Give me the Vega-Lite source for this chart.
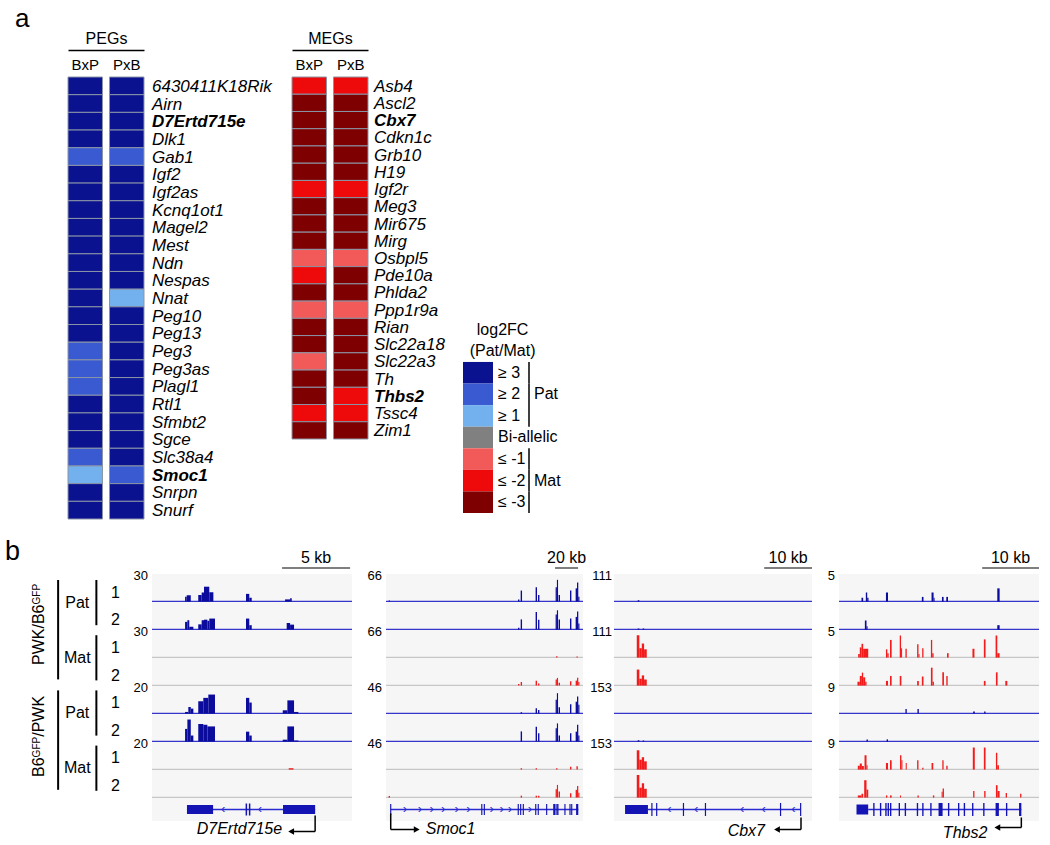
{
"$schema": "https://vega.github.io/schema/vega-lite/v6.json",
"padding": {"left": 0, "top": 6, "right": 5, "bottom": 5},
"background": "white",
"config": {"view": {"stroke": null}, "font": "Liberation Sans", "text": {"font": "Liberation Sans", "color": "black"}, "title": {"font": "Liberation Sans", "color": "black"}, "axis": {"labelFont": "Liberation Sans", "titleFont": "Liberation Sans"}},
"datasets": {
"peg": [
{"g":"6430411K18Rik","c":"BxP","v":3},{"g":"6430411K18Rik","c":"PxB","v":3},
{"g":"Airn","c":"BxP","v":3},{"g":"Airn","c":"PxB","v":3},
{"g":"D7Ertd715e","c":"BxP","v":3},{"g":"D7Ertd715e","c":"PxB","v":3},
{"g":"Dlk1","c":"BxP","v":3},{"g":"Dlk1","c":"PxB","v":3},
{"g":"Gab1","c":"BxP","v":2},{"g":"Gab1","c":"PxB","v":2},
{"g":"Igf2","c":"BxP","v":3},{"g":"Igf2","c":"PxB","v":3},
{"g":"Igf2as","c":"BxP","v":3},{"g":"Igf2as","c":"PxB","v":3},
{"g":"Kcnq1ot1","c":"BxP","v":3},{"g":"Kcnq1ot1","c":"PxB","v":3},
{"g":"Magel2","c":"BxP","v":3},{"g":"Magel2","c":"PxB","v":3},
{"g":"Mest","c":"BxP","v":3},{"g":"Mest","c":"PxB","v":3},
{"g":"Ndn","c":"BxP","v":3},{"g":"Ndn","c":"PxB","v":3},
{"g":"Nespas","c":"BxP","v":3},{"g":"Nespas","c":"PxB","v":3},
{"g":"Nnat","c":"BxP","v":3},{"g":"Nnat","c":"PxB","v":1},
{"g":"Peg10","c":"BxP","v":3},{"g":"Peg10","c":"PxB","v":3},
{"g":"Peg13","c":"BxP","v":3},{"g":"Peg13","c":"PxB","v":3},
{"g":"Peg3","c":"BxP","v":2},{"g":"Peg3","c":"PxB","v":3},
{"g":"Peg3as","c":"BxP","v":2},{"g":"Peg3as","c":"PxB","v":3},
{"g":"Plagl1","c":"BxP","v":2},{"g":"Plagl1","c":"PxB","v":3},
{"g":"Rtl1","c":"BxP","v":3},{"g":"Rtl1","c":"PxB","v":3},
{"g":"Sfmbt2","c":"BxP","v":3},{"g":"Sfmbt2","c":"PxB","v":3},
{"g":"Sgce","c":"BxP","v":3},{"g":"Sgce","c":"PxB","v":3},
{"g":"Slc38a4","c":"BxP","v":2},{"g":"Slc38a4","c":"PxB","v":3},
{"g":"Smoc1","c":"BxP","v":1},{"g":"Smoc1","c":"PxB","v":2},
{"g":"Snrpn","c":"BxP","v":3},{"g":"Snrpn","c":"PxB","v":3},
{"g":"Snurf","c":"BxP","v":3},{"g":"Snurf","c":"PxB","v":3}
],
"meg": [
{"g":"Asb4","c":"BxP","v":-2},{"g":"Asb4","c":"PxB","v":-2},
{"g":"Ascl2","c":"BxP","v":-3},{"g":"Ascl2","c":"PxB","v":-3},
{"g":"Cbx7","c":"BxP","v":-3},{"g":"Cbx7","c":"PxB","v":-3},
{"g":"Cdkn1c","c":"BxP","v":-3},{"g":"Cdkn1c","c":"PxB","v":-3},
{"g":"Grb10","c":"BxP","v":-3},{"g":"Grb10","c":"PxB","v":-3},
{"g":"H19","c":"BxP","v":-3},{"g":"H19","c":"PxB","v":-3},
{"g":"Igf2r","c":"BxP","v":-2},{"g":"Igf2r","c":"PxB","v":-2},
{"g":"Meg3","c":"BxP","v":-3},{"g":"Meg3","c":"PxB","v":-3},
{"g":"Mir675","c":"BxP","v":-3},{"g":"Mir675","c":"PxB","v":-3},
{"g":"Mirg","c":"BxP","v":-3},{"g":"Mirg","c":"PxB","v":-3},
{"g":"Osbpl5","c":"BxP","v":-1},{"g":"Osbpl5","c":"PxB","v":-1},
{"g":"Pde10a","c":"BxP","v":-2},{"g":"Pde10a","c":"PxB","v":-3},
{"g":"Phlda2","c":"BxP","v":-3},{"g":"Phlda2","c":"PxB","v":-3},
{"g":"Ppp1r9a","c":"BxP","v":-1},{"g":"Ppp1r9a","c":"PxB","v":-1},
{"g":"Rian","c":"BxP","v":-3},{"g":"Rian","c":"PxB","v":-3},
{"g":"Slc22a18","c":"BxP","v":-3},{"g":"Slc22a18","c":"PxB","v":-3},
{"g":"Slc22a3","c":"BxP","v":-1},{"g":"Slc22a3","c":"PxB","v":-3},
{"g":"Th","c":"BxP","v":-3},{"g":"Th","c":"PxB","v":-3},
{"g":"Thbs2","c":"BxP","v":-3},{"g":"Thbs2","c":"PxB","v":-2},
{"g":"Tssc4","c":"BxP","v":-2},{"g":"Tssc4","c":"PxB","v":-2},
{"g":"Zim1","c":"BxP","v":-3},{"g":"Zim1","c":"PxB","v":-3}
],
"leg": [
{"lab":"log2FC"},{"lab":"(Pat/Mat)"},
{"lab":"≥ 3","v":3,"grp":"Pat"},{"lab":"≥ 2","v":2,"grp":"Pat","gl":"Pat"},{"lab":"≥ 1","v":1,"grp":"Pat"},
{"lab":"Bi-allelic","v":0},
{"lab":"≤ -1","v":-1,"grp":"Mat"},{"lab":"≤ -2","v":-2,"grp":"Mat","gl":"Mat"},{"lab":"≤ -3","v":-3,"grp":"Mat"}
],
"lab": [
{"k":"strain","n":"PWK/B6GFP","lo":0,"hi":4,"mid":2},
{"k":"strain","n":"B6GFP/PWK","lo":4,"hi":8,"mid":6},
{"k":"parent","n":"Pat","lo":0,"hi":2,"mid":1},
{"k":"parent","n":"Mat","lo":2,"hi":4,"mid":3},
{"k":"parent","n":"Pat","lo":4,"hi":6,"mid":5},
{"k":"parent","n":"Mat","lo":6,"hi":8,"mid":7},
{"k":"rep","n":"1","lo":0,"hi":1,"mid":0.5},{"k":"rep","n":"2","lo":1,"hi":2,"mid":1.5},
{"k":"rep","n":"1","lo":2,"hi":3,"mid":2.5},{"k":"rep","n":"2","lo":3,"hi":4,"mid":3.5},
{"k":"rep","n":"1","lo":4,"hi":5,"mid":4.5},{"k":"rep","n":"2","lo":5,"hi":6,"mid":5.5},
{"k":"rep","n":"1","lo":6,"hi":7,"mid":6.5},{"k":"rep","n":"2","lo":7,"hi":8,"mid":7.5}
],
"t1": [
{"t":1,"k":"base"},{"t":2,"k":"base"},{"t":3,"k":"base"},{"t":4,"k":"base"},{"t":5,"k":"base"},{"t":6,"k":"base"},{"t":7,"k":"base"},{"t":8,"k":"base"},
{"t":1,"lab":"30"},{"t":3,"lab":"30"},{"t":5,"lab":"20"},{"t":7,"lab":"20"},
{"t":1,"s":2.43,"e":2.55,"v":18},{"t":1,"s":2.55,"e":2.85,"v":23},{"t":1,"s":3.40,"e":3.65,"v":24},{"t":1,"s":3.65,"e":3.82,"v":33},{"t":1,"s":3.82,"e":4.21,"v":54},{"t":1,"s":4.21,"e":4.51,"v":34},{"t":1,"s":6.91,"e":7.15,"v":28},{"t":1,"s":7.15,"e":7.33,"v":14},{"t":1,"s":9.78,"e":10.15,"v":8},{"t":1,"s":10.15,"e":10.27,"v":12},
{"t":2,"s":2.43,"e":2.60,"v":28},{"t":2,"s":2.60,"e":2.74,"v":34},{"t":2,"s":2.74,"e":3.04,"v":10},{"t":2,"s":3.40,"e":3.65,"v":19},{"t":2,"s":3.65,"e":3.82,"v":34},{"t":2,"s":3.82,"e":4.07,"v":36},{"t":2,"s":4.07,"e":4.21,"v":32},{"t":2,"s":4.21,"e":4.63,"v":40},{"t":2,"s":6.91,"e":7.15,"v":40},{"t":2,"s":7.15,"e":7.33,"v":16},{"t":2,"s":9.90,"e":10.15,"v":24},{"t":2,"s":10.15,"e":10.44,"v":18},
{"t":5,"s":2.43,"e":2.67,"v":6},{"t":5,"s":2.67,"e":2.85,"v":24},{"t":5,"s":2.85,"e":3.04,"v":18},{"t":5,"s":3.40,"e":3.77,"v":45},{"t":5,"s":3.77,"e":4.14,"v":57},{"t":5,"s":4.14,"e":4.63,"v":69},{"t":5,"s":6.91,"e":7.15,"v":57},{"t":5,"s":7.15,"e":7.33,"v":40},{"t":5,"s":9.61,"e":9.95,"v":12},{"t":5,"s":9.95,"e":10.44,"v":48},{"t":5,"s":10.44,"e":10.76,"v":6},
{"t":6,"s":2.43,"e":2.60,"v":46},{"t":6,"s":2.60,"e":2.85,"v":80},{"t":6,"s":2.85,"e":3.04,"v":22},{"t":6,"s":3.40,"e":3.77,"v":64},{"t":6,"s":3.77,"e":4.07,"v":61},{"t":6,"s":4.07,"e":4.63,"v":55},{"t":6,"s":6.91,"e":7.15,"v":36},{"t":6,"s":7.15,"e":7.33,"v":22},{"t":6,"s":9.61,"e":9.95,"v":7},{"t":6,"s":9.95,"e":10.44,"v":55},{"t":6,"s":10.44,"e":10.76,"v":4},
{"t":7,"s":10.05,"e":10.4,"v":5}
],
"t2": [
{"t":1,"k":"base"},{"t":2,"k":"base"},{"t":3,"k":"base"},{"t":4,"k":"base"},{"t":5,"k":"base"},{"t":6,"k":"base"},{"t":7,"k":"base"},{"t":8,"k":"base"},
{"t":1,"lab":"66"},{"t":3,"lab":"66"},{"t":5,"lab":"46"},{"t":7,"lab":"46"},
{"t":1,"s":2.3,"e":3.5,"v":4},{"t":1,"s":114.8,"e":116.0,"v":8},{"t":1,"s":117.1,"e":118.3,"v":40},{"t":1,"s":130.1,"e":131.3,"v":52},{"t":1,"s":132.2,"e":133.4,"v":24},{"t":1,"s":147.5,"e":148.6,"v":52},{"t":1,"s":148.6,"e":149.6,"v":79},{"t":1,"s":150.1,"e":151.3,"v":24},{"t":1,"s":160.0,"e":161.2,"v":40},{"t":1,"s":164.9,"e":166.1,"v":48},{"t":1,"s":166.1,"e":167.2,"v":69},{"t":1,"s":167.2,"e":168.2,"v":18},
{"t":2,"s":114.8,"e":116.0,"v":7},{"t":2,"s":117.1,"e":118.3,"v":37},{"t":2,"s":130.1,"e":131.3,"v":64},{"t":2,"s":132.2,"e":133.4,"v":36},{"t":2,"s":147.5,"e":148.6,"v":55},{"t":2,"s":148.6,"e":149.6,"v":70},{"t":2,"s":150.1,"e":151.3,"v":37},{"t":2,"s":160.0,"e":161.2,"v":40},{"t":2,"s":164.9,"e":166.1,"v":46},{"t":2,"s":166.1,"e":167.2,"v":66},{"t":2,"s":167.2,"e":168.2,"v":22},
{"t":3,"s":147.9,"e":149.1,"v":5},{"t":3,"s":165.6,"e":166.8,"v":4},
{"t":4,"s":114.8,"e":116.0,"v":6},{"t":4,"s":117.1,"e":118.3,"v":13},{"t":4,"s":130.1,"e":131.3,"v":18},{"t":4,"s":132.2,"e":133.4,"v":8},{"t":4,"s":147.5,"e":148.6,"v":22},{"t":4,"s":148.6,"e":149.6,"v":28},{"t":4,"s":150.1,"e":151.3,"v":10},{"t":4,"s":160.0,"e":161.2,"v":16},{"t":4,"s":164.9,"e":166.1,"v":18},{"t":4,"s":166.1,"e":167.2,"v":28},{"t":4,"s":167.2,"e":168.2,"v":13},
{"t":5,"s":117.1,"e":118.3,"v":5},{"t":5,"s":130.1,"e":131.3,"v":19},{"t":5,"s":132.2,"e":133.4,"v":13},{"t":5,"s":147.5,"e":148.6,"v":50},{"t":5,"s":148.6,"e":149.6,"v":74},{"t":5,"s":150.1,"e":151.3,"v":23},{"t":5,"s":160.0,"e":161.2,"v":34},{"t":5,"s":164.9,"e":166.1,"v":43},{"t":5,"s":166.1,"e":167.2,"v":62},{"t":5,"s":167.2,"e":168.2,"v":32},
{"t":6,"s":117.1,"e":118.3,"v":37},{"t":6,"s":130.1,"e":131.3,"v":54},{"t":6,"s":132.2,"e":133.4,"v":30},{"t":6,"s":147.5,"e":148.6,"v":48},{"t":6,"s":148.6,"e":149.6,"v":66},{"t":6,"s":150.1,"e":151.3,"v":22},{"t":6,"s":160.0,"e":161.2,"v":30},{"t":6,"s":164.9,"e":166.1,"v":36},{"t":6,"s":166.1,"e":167.2,"v":61},{"t":6,"s":167.2,"e":168.2,"v":22},
{"t":7,"s":117.1,"e":118.3,"v":5},{"t":7,"s":130.1,"e":131.3,"v":5},{"t":7,"s":147.9,"e":149.1,"v":5},{"t":7,"s":160.0,"e":161.2,"v":10},{"t":7,"s":165.6,"e":166.8,"v":12},
{"t":8,"s":2.3,"e":3.5,"v":6},{"t":8,"s":117.1,"e":118.3,"v":7},{"t":8,"s":130.1,"e":131.3,"v":7},{"t":8,"s":132.2,"e":133.4,"v":7},{"t":8,"s":147.5,"e":148.6,"v":30},{"t":8,"s":148.6,"e":149.6,"v":46},{"t":8,"s":150.1,"e":151.3,"v":22},{"t":8,"s":160.0,"e":161.2,"v":16},{"t":8,"s":164.9,"e":166.1,"v":28},{"t":8,"s":166.1,"e":167.2,"v":42},{"t":8,"s":167.2,"e":168.2,"v":18}
],
"t3": [
{"t":1,"k":"base"},{"t":2,"k":"base"},{"t":3,"k":"base"},{"t":4,"k":"base"},{"t":5,"k":"base"},{"t":6,"k":"base"},{"t":7,"k":"base"},{"t":8,"k":"base"},
{"t":1,"lab":"111"},{"t":3,"lab":"111"},{"t":5,"lab":"153"},{"t":7,"lab":"153"},
{"t":1,"s":4.95,"e":5.3,"v":5},
{"t":2,"s":4.95,"e":5.3,"v":4},{"t":2,"s":6.0,"e":6.3,"v":4},
{"t":3,"s":4.76,"e":5.30,"v":81},{"t":3,"s":5.30,"e":5.81,"v":34},{"t":3,"s":5.81,"e":6.29,"v":51},{"t":3,"s":6.29,"e":6.85,"v":30},
{"t":4,"s":4.76,"e":5.30,"v":58},{"t":4,"s":5.30,"e":5.81,"v":25},{"t":4,"s":5.81,"e":6.29,"v":37},{"t":4,"s":6.29,"e":6.85,"v":22},
{"t":6,"s":4.95,"e":5.3,"v":5},{"t":6,"s":6.0,"e":6.3,"v":4},
{"t":7,"s":4.76,"e":5.30,"v":70},{"t":7,"s":5.30,"e":5.81,"v":36},{"t":7,"s":5.81,"e":6.29,"v":45},{"t":7,"s":6.29,"e":6.85,"v":30},
{"t":8,"s":4.76,"e":5.30,"v":82},{"t":8,"s":5.30,"e":5.81,"v":36},{"t":8,"s":5.81,"e":6.29,"v":52},{"t":8,"s":6.29,"e":6.85,"v":32}
],
"t4": [
{"t":1,"k":"base"},{"t":2,"k":"base"},{"t":3,"k":"base"},{"t":4,"k":"base"},{"t":5,"k":"base"},{"t":6,"k":"base"},{"t":7,"k":"base"},{"t":8,"k":"base"},
{"t":1,"lab":"5"},{"t":3,"lab":"5"},{"t":5,"lab":"9"},{"t":7,"lab":"9"},
{"t":1,"s":3.95,"e":4.24,"v":14},{"t":1,"s":4.71,"e":4.95,"v":33},{"t":1,"s":4.95,"e":5.18,"v":14},{"t":1,"s":8.24,"e":8.60,"v":33},{"t":1,"s":14.54,"e":14.83,"v":17},{"t":1,"s":16.24,"e":16.60,"v":33},{"t":1,"s":16.60,"e":16.77,"v":14},{"t":1,"s":18.07,"e":18.36,"v":17},{"t":1,"s":18.83,"e":19.13,"v":17},{"t":1,"s":27.78,"e":28.19,"v":48},
{"t":2,"s":4.54,"e":4.83,"v":33},{"t":2,"s":4.83,"e":5.01,"v":12},{"t":2,"s":27.78,"e":28.19,"v":16},
{"t":3,"s":3.36,"e":3.65,"v":13},{"t":3,"s":3.65,"e":3.95,"v":37},{"t":3,"s":3.95,"e":4.24,"v":50},{"t":3,"s":4.24,"e":5.13,"v":32},{"t":3,"s":8.24,"e":8.48,"v":30},{"t":3,"s":8.48,"e":8.71,"v":16},{"t":3,"s":8.95,"e":9.24,"v":64},{"t":3,"s":10.66,"e":10.89,"v":80},{"t":3,"s":10.89,"e":11.07,"v":34},{"t":3,"s":11.66,"e":11.89,"v":32},{"t":3,"s":13.71,"e":13.95,"v":48},{"t":3,"s":13.95,"e":14.13,"v":13},{"t":3,"s":14.60,"e":14.83,"v":34},{"t":3,"s":16.13,"e":16.36,"v":64},{"t":3,"s":16.36,"e":16.60,"v":16},{"t":3,"s":18.95,"e":19.24,"v":16},{"t":3,"s":23.42,"e":23.77,"v":32},{"t":3,"s":25.42,"e":25.72,"v":66},{"t":3,"s":27.48,"e":27.78,"v":80},{"t":3,"s":27.78,"e":28.19,"v":16},
{"t":4,"s":3.24,"e":3.65,"v":14},{"t":4,"s":3.65,"e":4.01,"v":35},{"t":4,"s":4.01,"e":4.24,"v":47},{"t":4,"s":4.24,"e":4.60,"v":30},{"t":4,"s":4.60,"e":4.83,"v":14},{"t":4,"s":8.24,"e":8.60,"v":17},{"t":4,"s":8.95,"e":9.24,"v":35},{"t":4,"s":10.66,"e":10.95,"v":35},{"t":4,"s":13.71,"e":14.01,"v":17},{"t":4,"s":14.54,"e":14.83,"v":33},{"t":4,"s":16.13,"e":16.42,"v":65},{"t":4,"s":16.42,"e":16.66,"v":14},{"t":4,"s":18.13,"e":18.42,"v":48},{"t":4,"s":18.83,"e":19.07,"v":35},{"t":4,"s":25.42,"e":25.72,"v":17},{"t":4,"s":27.54,"e":27.83,"v":48},{"t":4,"s":29.19,"e":29.54,"v":17},
{"t":5,"s":11.66,"e":11.89,"v":17},{"t":5,"s":13.77,"e":14.01,"v":17},{"t":5,"s":23.54,"e":23.83,"v":8},{"t":5,"s":25.48,"e":25.72,"v":8},
{"t":6,"s":4.83,"e":5.07,"v":8},{"t":6,"s":8.36,"e":8.60,"v":8},
{"t":7,"s":3.30,"e":3.65,"v":14},{"t":7,"s":3.65,"e":4.01,"v":22},{"t":7,"s":4.01,"e":4.36,"v":13},{"t":7,"s":4.48,"e":4.83,"v":52},{"t":7,"s":4.83,"e":5.01,"v":16},{"t":7,"s":8.24,"e":8.60,"v":24},{"t":7,"s":8.95,"e":9.24,"v":34},{"t":7,"s":10.71,"e":10.95,"v":52},{"t":7,"s":10.95,"e":11.13,"v":34},{"t":7,"s":11.71,"e":11.89,"v":24},{"t":7,"s":13.71,"e":13.95,"v":34},{"t":7,"s":14.60,"e":14.83,"v":7},{"t":7,"s":16.24,"e":16.54,"v":24},{"t":7,"s":18.13,"e":18.36,"v":34},{"t":7,"s":18.83,"e":19.07,"v":14},{"t":7,"s":23.48,"e":23.83,"v":80},{"t":7,"s":25.42,"e":25.72,"v":80},{"t":7,"s":27.54,"e":27.78,"v":61},{"t":7,"s":27.78,"e":28.07,"v":16},
{"t":8,"s":3.30,"e":3.95,"v":8},{"t":8,"s":3.95,"e":4.24,"v":14},{"t":8,"s":4.42,"e":4.83,"v":63},{"t":8,"s":4.83,"e":5.13,"v":29},{"t":8,"s":8.24,"e":8.48,"v":8},{"t":8,"s":8.95,"e":9.24,"v":8},{"t":8,"s":10.71,"e":10.89,"v":8},{"t":8,"s":13.77,"e":14.01,"v":8},{"t":8,"s":16.48,"e":16.72,"v":8},{"t":8,"s":18.01,"e":18.19,"v":21},{"t":8,"s":18.19,"e":18.42,"v":33},{"t":8,"s":23.54,"e":23.77,"v":24},{"t":8,"s":25.48,"e":25.72,"v":24},{"t":8,"s":27.54,"e":27.83,"v":45},{"t":8,"s":27.83,"e":28.19,"v":24},{"t":8,"s":29.25,"e":29.48,"v":17},{"t":8,"s":31.78,"e":32.01,"v":14}
],
"g1": [
{"k":"bar","s":9.56,"e":14.56,"m":12.06,"lab":"5 kb"},
{"k":"i","s":2.57,"e":11.99},
{"k":"x","s":2.57,"e":4.49,"h":"u"},{"k":"x","s":9.63,"e":11.99,"h":"u"},{"k":"x","s":6.88,"e":6.99,"h":"c"},{"k":"x","s":7.12,"e":7.23,"h":"c"},
{"k":"c","s":5.24},{"k":"c","s":7.94},
{"k":"n","s":11.99,"g":"D7Ertd715e"}
],
"g2": [
{"k":"bar","s":147,"e":167,"m":157,"lab":"20 kb"},
{"k":"i","s":4.1,"e":167.2},
{"k":"x","s":3.6,"e":4.6,"h":"c"},{"k":"x","s":82.8,"e":83.8,"h":"c"},{"k":"x","s":85.0,"e":86.0,"h":"c"},{"k":"x","s":114.5,"e":115.5,"h":"c"},{"k":"x","s":116.6,"e":117.6,"h":"c"},{"k":"x","s":118.9,"e":119.9,"h":"c"},{"k":"x","s":129.7,"e":130.7,"h":"c"},{"k":"x","s":131.9,"e":132.9,"h":"c"},{"k":"x","s":139.2,"e":140.2,"h":"c"},{"k":"x","s":145.4,"e":147.0,"h":"c"},{"k":"x","s":147.4,"e":148.4,"h":"c"},{"k":"x","s":148.8,"e":150.0,"h":"c"},{"k":"x","s":155.1,"e":156.1,"h":"c"},{"k":"x","s":159.5,"e":160.5,"h":"c"},{"k":"x","s":161.0,"e":162.0,"h":"c"},{"k":"x","s":165.3,"e":167.2,"h":"c"},
{"k":"c","s":16.5},{"k":"c","s":29.6},{"k":"c","s":39.7},{"k":"c","s":49.8},{"k":"c","s":61.5},{"k":"c","s":71.6},{"k":"c","s":91.9},{"k":"c","s":100.6},{"k":"c","s":107.8},{"k":"c","s":125.2},
{"k":"n","s":4.1,"g":"Smoc1"}
],
"g3": [
{"k":"bar","s":31.4,"e":41.4,"m":36.4,"lab":"10 kb"},
{"k":"i","s":7.1,"e":39.1},
{"k":"x","s":2.31,"e":7.1,"h":"u"},{"k":"x","s":7.8,"e":8.05,"h":"c"},{"k":"x","s":8.8,"e":9.05,"h":"c"},{"k":"x","s":14.4,"e":14.65,"h":"c"},{"k":"x","s":19.0,"e":19.25,"h":"c"},{"k":"x","s":34.7,"e":34.95,"h":"c"},{"k":"x","s":38.9,"e":39.15,"h":"c"},
{"k":"c","s":11.6},{"k":"c","s":17.2},{"k":"c","s":26.8},{"k":"c","s":31.3},{"k":"c","s":37.5},
{"k":"n","s":39.1,"g":"Cbx7"}
],
"g4": [
{"k":"bar","s":25.13,"e":35.1,"m":30.1,"lab":"10 kb"},
{"k":"i","s":5.12,"e":32.0},
{"k":"x","s":3.07,"e":5.12,"h":"u"},
{"k":"x","s":6.0,"e":6.24,"h":"c"},{"k":"x","s":7.18,"e":7.42,"h":"c"},{"k":"x","s":8.12,"e":8.36,"h":"c"},{"k":"x","s":8.53,"e":8.77,"h":"c"},{"k":"x","s":8.95,"e":9.19,"h":"c"},{"k":"x","s":10.47,"e":10.71,"h":"c"},{"k":"x","s":11.53,"e":11.77,"h":"c"},{"k":"x","s":13.65,"e":13.89,"h":"c"},{"k":"x","s":14.6,"e":14.84,"h":"c"},{"k":"x","s":16.01,"e":16.25,"h":"c"},{"k":"x","s":17.47,"e":18.18,"h":"c"},{"k":"x","s":19.12,"e":19.36,"h":"c"},{"k":"x","s":20.88,"e":21.12,"h":"c"},{"k":"x","s":21.89,"e":22.13,"h":"c"},{"k":"x","s":23.35,"e":23.59,"h":"c"},{"k":"x","s":25.3,"e":25.54,"h":"c"},{"k":"x","s":27.48,"e":28.06,"h":"c"},{"k":"x","s":29.3,"e":29.54,"h":"c"},{"k":"x","s":31.6,"e":32.0,"h":"c"},
{"k":"n","s":32.0,"g":"Thbs2"}
]
},
"columns": 5,
"align": "none",
"spacing": 0,
"bounds": "flush",
"concat": [
 {"width": 152, "height": 473,
  "title": {"text": "a", "anchor": "start", "frame": "group", "dx": 15, "fontSize": 26, "fontWeight": "normal", "offset": -2},
  "data": {"name": "peg"},
  "layer": [
   {"mark": {"type": "rect", "stroke": "#8a94a6", "strokeWidth": 1},
    "encoding": {
     "x": {"field": "c", "type": "nominal", "scale": {"domain": ["BxP","PxB"], "range": [68,144], "paddingInner": 0.17, "paddingOuter": 0},
       "axis": {"orient": "top", "title": "PEGs", "titleFontSize": 16, "titleFontWeight": "normal", "titlePadding": 4, "titleColor": "black", "labelFontSize": 15, "labelAngle": 0, "labelColor": "black", "ticks": false, "domainColor": "black", "domainWidth": 1.5, "offset": 27, "labelPadding": -22}},
     "y": {"field": "g", "type": "nominal", "sort": null, "scale": {"range": [0,442], "paddingInner": 0, "paddingOuter": 0}, "axis": null},
     "fill": {"field": "v", "type": "ordinal", "scale": {"domain": [3,2,1,0,-1,-2,-3], "range": ["#0a1290","#3a5ad2","#73b0ee","#808080","#f25a5a","#ee0a0a","#7f0000"]}, "legend": null}}},
   {"transform": [{"filter": "datum.c=='PxB'"}, {"filter": {"not": {"field": "g", "oneOf": ["D7Ertd715e","Smoc1","Cbx7","Thbs2"]}}}],
    "mark": {"type": "text", "align": "left", "baseline": "middle", "dx": 8, "dy": 1, "fontSize": 17, "fontStyle": "italic"},
    "encoding": {"x": {"field": "c", "type": "nominal", "bandPosition": 1}, "y": {"field": "g", "type": "nominal", "sort": null, "axis": null}, "text": {"field": "g"}}},
   {"transform": [{"filter": "datum.c=='PxB'"}, {"filter": {"field": "g", "oneOf": ["D7Ertd715e","Smoc1","Cbx7","Thbs2"]}}],
    "mark": {"type": "text", "align": "left", "baseline": "middle", "dx": 8, "dy": 1, "fontSize": 17, "fontStyle": "italic", "fontWeight": "bold"},
    "encoding": {"x": {"field": "c", "type": "nominal", "bandPosition": 1}, "y": {"field": "g", "type": "nominal", "sort": null, "axis": null}, "text": {"field": "g"}}}
  ]},
 {"width": 200, "height": 473,
  "data": {"name": "meg"},
  "layer": [
   {"mark": {"type": "rect", "stroke": "#8a94a6", "strokeWidth": 1},
    "encoding": {
     "x": {"field": "c", "type": "nominal", "scale": {"domain": ["BxP","PxB"], "range": [140,216], "paddingInner": 0.17, "paddingOuter": 0},
       "axis": {"orient": "top", "title": "MEGs", "titleFontSize": 16, "titleFontWeight": "normal", "titlePadding": 4, "titleColor": "black", "labelFontSize": 15, "labelAngle": 0, "labelColor": "black", "ticks": false, "domainColor": "black", "domainWidth": 1.5, "offset": 27, "labelPadding": -22}},
     "y": {"field": "g", "type": "nominal", "sort": null, "scale": {"range": [0,362], "paddingInner": 0, "paddingOuter": 0}, "axis": null},
     "fill": {"field": "v", "type": "ordinal", "scale": {"domain": [3,2,1,0,-1,-2,-3], "range": ["#0a1290","#3a5ad2","#73b0ee","#808080","#f25a5a","#ee0a0a","#7f0000"]}, "legend": null}}},
   {"transform": [{"filter": "datum.c=='PxB'"}, {"filter": {"not": {"field": "g", "oneOf": ["D7Ertd715e","Smoc1","Cbx7","Thbs2"]}}}],
    "mark": {"type": "text", "align": "left", "baseline": "middle", "dx": 6, "dy": 1, "fontSize": 17, "fontStyle": "italic"},
    "encoding": {"x": {"field": "c", "type": "nominal", "bandPosition": 1}, "y": {"field": "g", "type": "nominal", "sort": null, "axis": null}, "text": {"field": "g"}}},
   {"transform": [{"filter": "datum.c=='PxB'"}, {"filter": {"field": "g", "oneOf": ["D7Ertd715e","Smoc1","Cbx7","Thbs2"]}}],
    "mark": {"type": "text", "align": "left", "baseline": "middle", "dx": 6, "dy": 1, "fontSize": 17, "fontStyle": "italic", "fontWeight": "bold"},
    "encoding": {"x": {"field": "c", "type": "nominal", "bandPosition": 1}, "y": {"field": "g", "type": "nominal", "sort": null, "axis": null}, "text": {"field": "g"}}}
  ]},
 {"width": 231, "height": 473,
  "data": {"name": "leg"},
  "layer": [
   {"transform": [{"filter": "isValid(datum.v)"}],
    "mark": {"type": "rect"},
    "encoding": {
     "x": {"datum": 0, "type": "quantitative", "scale": {"domain": [0,1], "range": [111,141], "nice": false, "zero": false}, "axis": null},
     "x2": {"datum": 1},
     "y": {"field": "lab", "type": "nominal", "scale": {"domain": ["log2FC","(Pat/Mat)","≥ 3","≥ 2","≥ 1","Bi-allelic","≤ -1","≤ -2","≤ -3"], "range": [241.8,436], "paddingInner": 0, "paddingOuter": 0}, "axis": null},
     "fill": {"field": "v", "type": "ordinal", "scale": {"domain": [3,2,1,0,-1,-2,-3], "range": ["#0a1290","#3a5ad2","#73b0ee","#808080","#f25a5a","#ee0a0a","#7f0000"]}, "legend": null}}},
   {"transform": [{"filter": "isValid(datum.v)"}],
    "mark": {"type": "text", "align": "left", "baseline": "middle", "dx": 5, "fontSize": 16},
    "encoding": {"x": {"datum": 1, "type": "quantitative", "axis": null}, "y": {"field": "lab", "type": "nominal", "axis": null}, "text": {"field": "lab"}}},
   {"transform": [{"filter": "!isValid(datum.v)"}],
    "mark": {"type": "text", "align": "center", "baseline": "middle", "fontSize": 16},
    "encoding": {"x": {"datum": 1.32, "type": "quantitative", "axis": null}, "y": {"field": "lab", "type": "nominal", "axis": null}, "text": {"field": "lab"}}},
   {"transform": [{"filter": "datum.grp=='Pat'||datum.grp=='Mat'"}],
    "mark": {"type": "tick", "orient": "vertical", "size": 21.6, "thickness": 1.5, "color": "black", "opacity": 1},
    "encoding": {"x": {"datum": 2.2, "type": "quantitative", "axis": null}, "y": {"field": "lab", "type": "nominal", "axis": null}}},
   {"transform": [{"filter": "isValid(datum.gl)"}],
    "mark": {"type": "text", "align": "left", "baseline": "middle", "dx": 5, "fontSize": 16},
    "encoding": {"x": {"datum": 2.2, "type": "quantitative", "axis": null}, "y": {"field": "lab", "type": "nominal", "axis": null}, "text": {"field": "gl"}}}
  ]},
 {"width": 229, "height": 473, "data": {"values": [{}]}, "mark": {"type": "text", "text": ""}, "encoding": {}},
 {"width": 227, "height": 473, "data": {"values": [{}]}, "mark": {"type": "text", "text": ""}, "encoding": {}},

 {"width": 152, "height": 24, "data": {"values": [{}]}, "mark": {"type": "text", "text": ""}, "encoding": {}},
 {"width": 200, "height": 24, "data": {"name": "g1"}, "transform": [{"filter": "datum.k=='bar'"}],
  "layer": [
   {"mark": {"type": "rule", "color": "#555555", "strokeWidth": 1.5},
    "encoding": {"x": {"field": "s", "type": "quantitative", "scale": {"domain": [0,14.7], "nice": false, "zero": false}, "axis": null}, "x2": {"field": "e"}, "y": {"datum": 0.25, "type": "quantitative", "scale": {"domain": [0,1], "nice": false, "zero": false}, "axis": null}}},
   {"mark": {"type": "text", "fontSize": 16, "baseline": "middle", "align": "center"},
    "encoding": {"x": {"field": "m", "type": "quantitative", "axis": null}, "y": {"datum": 0.67, "type": "quantitative", "axis": null}, "text": {"field": "lab"}}}
  ]},
 {"width": 231, "height": 24, "data": {"name": "g2"}, "transform": [{"filter": "datum.k=='bar'"}],
  "layer": [
   {"mark": {"type": "rule", "color": "#555555", "strokeWidth": 1.5},
    "encoding": {"x": {"field": "s", "type": "quantitative", "scale": {"domain": [0,171.3], "range": [34,231], "nice": false, "zero": false}, "axis": null}, "x2": {"field": "e"}, "y": {"datum": 0.25, "type": "quantitative", "scale": {"domain": [0,1], "nice": false, "zero": false}, "axis": null}}},
   {"mark": {"type": "text", "fontSize": 16, "baseline": "middle", "align": "center"},
    "encoding": {"x": {"field": "m", "type": "quantitative", "axis": null}, "y": {"datum": 0.67, "type": "quantitative", "axis": null}, "text": {"field": "lab"}}}
  ]},
 {"width": 229, "height": 24, "data": {"name": "g3"}, "transform": [{"filter": "datum.k=='bar'"}],
  "layer": [
   {"mark": {"type": "rule", "color": "#555555", "strokeWidth": 1.5},
    "encoding": {"x": {"field": "s", "type": "quantitative", "scale": {"domain": [0,41.4], "range": [31,229], "nice": false, "zero": false}, "axis": null}, "x2": {"field": "e"}, "y": {"datum": 0.25, "type": "quantitative", "scale": {"domain": [0,1], "nice": false, "zero": false}, "axis": null}}},
   {"mark": {"type": "text", "fontSize": 16, "baseline": "middle", "align": "center"},
    "encoding": {"x": {"field": "m", "type": "quantitative", "axis": null}, "y": {"datum": 0.67, "type": "quantitative", "axis": null}, "text": {"field": "lab"}}}
  ]},
 {"width": 227, "height": 24, "data": {"name": "g4"}, "transform": [{"filter": "datum.k=='bar'"}],
  "layer": [
   {"mark": {"type": "rule", "color": "#555555", "strokeWidth": 1.5},
    "encoding": {"x": {"field": "s", "type": "quantitative", "scale": {"domain": [0,35.1], "range": [27,227], "nice": false, "zero": false}, "axis": null}, "x2": {"field": "e"}, "y": {"datum": 0.25, "type": "quantitative", "scale": {"domain": [0,1], "nice": false, "zero": false}, "axis": null}}},
   {"mark": {"type": "text", "fontSize": 16, "baseline": "middle", "align": "center"},
    "encoding": {"x": {"field": "m", "type": "quantitative", "axis": null}, "y": {"datum": 0.67, "type": "quantitative", "axis": null}, "text": {"field": "lab"}}}
  ]},

 {"width": 152, "height": 27.6,
  "title": {"text": "b", "anchor": "start", "frame": "group", "dx": 5, "dy": 27, "offset": 14, "baseline": "alphabetic", "fontSize": 27, "fontWeight": "normal"},
  "data": {"name": "lab"},
  "layer": [
   {"transform": [{"filter": "datum.k=='parent'"}],
    "mark": {"type": "text", "fontSize": 16, "baseline": "middle", "align": "center", "dy": 1},
    "encoding": {
     "x": {"datum": "parent", "type": "nominal", "scale": {"type": "point", "domain": ["strain","strainBar","parent","parentBar","rep"], "range": [39,115.5], "padding": 0}, "axis": null},
     "y": {"field": "mid", "type": "quantitative", "scale": {"domain": [0,8], "range": [0,220.8], "nice": false, "zero": false}, "axis": null},
     "text": {"field": "n"}}},
   {"transform": [{"filter": "datum.k=='rep'"}],
    "mark": {"type": "text", "fontSize": 16, "baseline": "middle", "align": "center", "dy": 5},
    "encoding": {"x": {"datum": "rep", "type": "nominal", "axis": null}, "y": {"field": "mid", "type": "quantitative", "axis": null}, "text": {"field": "n"}}},
   {"transform": [{"filter": "datum.k=='parent'"}],
    "mark": {"type": "rule", "color": "black", "strokeWidth": 2, "yOffset": 6, "y2Offset": -4},
    "encoding": {"x": {"datum": "parentBar", "type": "nominal", "axis": null}, "y": {"field": "lo", "type": "quantitative", "axis": null}, "y2": {"field": "hi"}}},
   {"transform": [{"filter": "datum.k=='strain'"}],
    "mark": {"type": "rule", "color": "black", "strokeWidth": 2, "yOffset": 6, "y2Offset": -5},
    "encoding": {"x": {"datum": "strainBar", "type": "nominal", "axis": null}, "y": {"field": "lo", "type": "quantitative", "axis": null}, "y2": {"field": "hi"}}},
   {"transform": [{"filter": "datum.n=='PWK/B6GFP'"}],
    "mark": {"type": "text", "text": "PWK/B6", "angle": 270, "align": "left", "baseline": "middle", "fontSize": 16, "dx": -35.8},
    "encoding": {"x": {"datum": "strain", "type": "nominal", "axis": null}, "y": {"field": "mid", "type": "quantitative", "axis": null}}},
   {"transform": [{"filter": "datum.n=='PWK/B6GFP'"}],
    "mark": {"type": "text", "text": "GFP", "angle": 270, "align": "left", "baseline": "middle", "fontSize": 10, "dx": 24.7, "dy": -2.5},
    "encoding": {"x": {"datum": "strain", "type": "nominal", "axis": null}, "y": {"field": "mid", "type": "quantitative", "axis": null}}},
   {"transform": [{"filter": "datum.n=='B6GFP/PWK'"}],
    "mark": {"type": "text", "text": "B6", "angle": 270, "align": "left", "baseline": "middle", "fontSize": 16, "dx": -37.4},
    "encoding": {"x": {"datum": "strain", "type": "nominal", "axis": null}, "y": {"field": "mid", "type": "quantitative", "axis": null}}},
   {"transform": [{"filter": "datum.n=='B6GFP/PWK'"}],
    "mark": {"type": "text", "text": "GFP", "angle": 270, "align": "left", "baseline": "middle", "fontSize": 10, "dx": -17.8, "dy": -2.5},
    "encoding": {"x": {"datum": "strain", "type": "nominal", "axis": null}, "y": {"field": "mid", "type": "quantitative", "axis": null}}},
   {"transform": [{"filter": "datum.n=='B6GFP/PWK'"}],
    "mark": {"type": "text", "text": "/PWK", "angle": 270, "align": "left", "baseline": "middle", "fontSize": 16, "dx": 2.8},
    "encoding": {"x": {"datum": "strain", "type": "nominal", "axis": null}, "y": {"field": "mid", "type": "quantitative", "axis": null}}}
  ]},
 {"width":200,"height":27.6,"data":{"name":"t1"},"transform":[{"filter":"datum.t==1"}],"layer":[
  {"transform":[{"filter":"datum.k=='base'"}],"mark":{"type":"rect","fill":"#f6f6f6"},"encoding":{"x":{"datum":0,"type":"quantitative","scale":{"domain":[0,14.7],"nice":false,"zero":false},"axis":null},"x2":{"datum":14.7}}},
  {"transform":[{"filter":"datum.k=='base'"}],"mark":{"type":"rule","color":"#3636cc","strokeWidth":1.5},"encoding":{"x":{"datum":0,"type":"quantitative","axis":null},"x2":{"datum":14.7},"y":{"datum":0,"type":"quantitative","scale":{"domain":[0,100],"nice":false,"zero":false},"axis":null}}},
  {"transform":[{"filter":"isValid(datum.v)"}],"mark":{"type":"rect","fill":"#0c0c9c"},"encoding":{"x":{"field":"s","type":"quantitative","axis":null},"x2":{"field":"e"},"y":{"field":"v","type":"quantitative","axis":null},"y2":{"datum":0}}},
  {"transform":[{"filter":"isValid(datum.lab)"}],"mark":{"type":"text","align":"right","baseline":"middle","dx":-4,"dy":2,"fontSize":13},"encoding":{"x":{"datum":0,"type":"quantitative","axis":null},"y":{"datum":100,"type":"quantitative","axis":null},"text":{"field":"lab"}}}]},
 {"width":231,"height":27.6,"data":{"name":"t2"},"transform":[{"filter":"datum.t==1"}],"layer":[
  {"transform":[{"filter":"datum.k=='base'"}],"mark":{"type":"rect","fill":"#f6f6f6"},"encoding":{"x":{"datum":0,"type":"quantitative","scale":{"domain":[0,171.3],"range":[34,231],"nice":false,"zero":false},"axis":null},"x2":{"datum":171.3}}},
  {"transform":[{"filter":"datum.k=='base'"}],"mark":{"type":"rule","color":"#3636cc","strokeWidth":1.5},"encoding":{"x":{"datum":0,"type":"quantitative","axis":null},"x2":{"datum":171.3},"y":{"datum":0,"type":"quantitative","scale":{"domain":[0,100],"nice":false,"zero":false},"axis":null}}},
  {"transform":[{"filter":"isValid(datum.v)"}],"mark":{"type":"rect","fill":"#0c0c9c"},"encoding":{"x":{"field":"s","type":"quantitative","axis":null},"x2":{"field":"e"},"y":{"field":"v","type":"quantitative","axis":null},"y2":{"datum":0}}},
  {"transform":[{"filter":"isValid(datum.lab)"}],"mark":{"type":"text","align":"right","baseline":"middle","dx":-4,"dy":2,"fontSize":13},"encoding":{"x":{"datum":0,"type":"quantitative","axis":null},"y":{"datum":100,"type":"quantitative","axis":null},"text":{"field":"lab"}}}]},
 {"width":229,"height":27.6,"data":{"name":"t3"},"transform":[{"filter":"datum.t==1"}],"layer":[
  {"transform":[{"filter":"datum.k=='base'"}],"mark":{"type":"rect","fill":"#f6f6f6"},"encoding":{"x":{"datum":0,"type":"quantitative","scale":{"domain":[0,41.4],"range":[31,229],"nice":false,"zero":false},"axis":null},"x2":{"datum":41.4}}},
  {"transform":[{"filter":"datum.k=='base'"}],"mark":{"type":"rule","color":"#3636cc","strokeWidth":1.5},"encoding":{"x":{"datum":0,"type":"quantitative","axis":null},"x2":{"datum":41.4},"y":{"datum":0,"type":"quantitative","scale":{"domain":[0,100],"nice":false,"zero":false},"axis":null}}},
  {"transform":[{"filter":"isValid(datum.v)"}],"mark":{"type":"rect","fill":"#0c0c9c"},"encoding":{"x":{"field":"s","type":"quantitative","axis":null},"x2":{"field":"e"},"y":{"field":"v","type":"quantitative","axis":null},"y2":{"datum":0}}},
  {"transform":[{"filter":"isValid(datum.lab)"}],"mark":{"type":"text","align":"right","baseline":"middle","dx":-2,"dy":2,"fontSize":13},"encoding":{"x":{"datum":0,"type":"quantitative","axis":null},"y":{"datum":100,"type":"quantitative","axis":null},"text":{"field":"lab"}}}]},
 {"width":227,"height":27.6,"data":{"name":"t4"},"transform":[{"filter":"datum.t==1"}],"layer":[
  {"transform":[{"filter":"datum.k=='base'"}],"mark":{"type":"rect","fill":"#f6f6f6"},"encoding":{"x":{"datum":0,"type":"quantitative","scale":{"domain":[0,35.1],"range":[27,227],"nice":false,"zero":false},"axis":null},"x2":{"datum":35.1}}},
  {"transform":[{"filter":"datum.k=='base'"}],"mark":{"type":"rule","color":"#3636cc","strokeWidth":1.5},"encoding":{"x":{"datum":0,"type":"quantitative","axis":null},"x2":{"datum":35.1},"y":{"datum":0,"type":"quantitative","scale":{"domain":[0,100],"nice":false,"zero":false},"axis":null}}},
  {"transform":[{"filter":"isValid(datum.v)"}],"mark":{"type":"rect","fill":"#0c0c9c"},"encoding":{"x":{"field":"s","type":"quantitative","axis":null},"x2":{"field":"e"},"y":{"field":"v","type":"quantitative","axis":null},"y2":{"datum":0}}},
  {"transform":[{"filter":"isValid(datum.lab)"}],"mark":{"type":"text","align":"right","baseline":"middle","dx":-4,"dy":2,"fontSize":13},"encoding":{"x":{"datum":0,"type":"quantitative","axis":null},"y":{"datum":100,"type":"quantitative","axis":null},"text":{"field":"lab"}}}]},

 {"width": 152, "height": 27.6, "data": {"values": [{}]}, "mark": {"type": "text", "text": ""}, "encoding": {}},
 {"width":200,"height":27.6,"data":{"name":"t1"},"transform":[{"filter":"datum.t==2"}],"layer":[
  {"transform":[{"filter":"datum.k=='base'"}],"mark":{"type":"rect","fill":"#f6f6f6"},"encoding":{"x":{"datum":0,"type":"quantitative","scale":{"domain":[0,14.7],"nice":false,"zero":false},"axis":null},"x2":{"datum":14.7}}},
  {"transform":[{"filter":"datum.k=='base'"}],"mark":{"type":"rule","color":"#3636cc","strokeWidth":1.5},"encoding":{"x":{"datum":0,"type":"quantitative","axis":null},"x2":{"datum":14.7},"y":{"datum":0,"type":"quantitative","scale":{"domain":[0,100],"nice":false,"zero":false},"axis":null}}},
  {"transform":[{"filter":"isValid(datum.v)"}],"mark":{"type":"rect","fill":"#0c0c9c"},"encoding":{"x":{"field":"s","type":"quantitative","axis":null},"x2":{"field":"e"},"y":{"field":"v","type":"quantitative","axis":null},"y2":{"datum":0}}}]},
 {"width":231,"height":27.6,"data":{"name":"t2"},"transform":[{"filter":"datum.t==2"}],"layer":[
  {"transform":[{"filter":"datum.k=='base'"}],"mark":{"type":"rect","fill":"#f6f6f6"},"encoding":{"x":{"datum":0,"type":"quantitative","scale":{"domain":[0,171.3],"range":[34,231],"nice":false,"zero":false},"axis":null},"x2":{"datum":171.3}}},
  {"transform":[{"filter":"datum.k=='base'"}],"mark":{"type":"rule","color":"#3636cc","strokeWidth":1.5},"encoding":{"x":{"datum":0,"type":"quantitative","axis":null},"x2":{"datum":171.3},"y":{"datum":0,"type":"quantitative","scale":{"domain":[0,100],"nice":false,"zero":false},"axis":null}}},
  {"transform":[{"filter":"isValid(datum.v)"}],"mark":{"type":"rect","fill":"#0c0c9c"},"encoding":{"x":{"field":"s","type":"quantitative","axis":null},"x2":{"field":"e"},"y":{"field":"v","type":"quantitative","axis":null},"y2":{"datum":0}}}]},
 {"width":229,"height":27.6,"data":{"name":"t3"},"transform":[{"filter":"datum.t==2"}],"layer":[
  {"transform":[{"filter":"datum.k=='base'"}],"mark":{"type":"rect","fill":"#f6f6f6"},"encoding":{"x":{"datum":0,"type":"quantitative","scale":{"domain":[0,41.4],"range":[31,229],"nice":false,"zero":false},"axis":null},"x2":{"datum":41.4}}},
  {"transform":[{"filter":"datum.k=='base'"}],"mark":{"type":"rule","color":"#3636cc","strokeWidth":1.5},"encoding":{"x":{"datum":0,"type":"quantitative","axis":null},"x2":{"datum":41.4},"y":{"datum":0,"type":"quantitative","scale":{"domain":[0,100],"nice":false,"zero":false},"axis":null}}},
  {"transform":[{"filter":"isValid(datum.v)"}],"mark":{"type":"rect","fill":"#0c0c9c"},"encoding":{"x":{"field":"s","type":"quantitative","axis":null},"x2":{"field":"e"},"y":{"field":"v","type":"quantitative","axis":null},"y2":{"datum":0}}}]},
 {"width":227,"height":27.6,"data":{"name":"t4"},"transform":[{"filter":"datum.t==2"}],"layer":[
  {"transform":[{"filter":"datum.k=='base'"}],"mark":{"type":"rect","fill":"#f6f6f6"},"encoding":{"x":{"datum":0,"type":"quantitative","scale":{"domain":[0,35.1],"range":[27,227],"nice":false,"zero":false},"axis":null},"x2":{"datum":35.1}}},
  {"transform":[{"filter":"datum.k=='base'"}],"mark":{"type":"rule","color":"#3636cc","strokeWidth":1.5},"encoding":{"x":{"datum":0,"type":"quantitative","axis":null},"x2":{"datum":35.1},"y":{"datum":0,"type":"quantitative","scale":{"domain":[0,100],"nice":false,"zero":false},"axis":null}}},
  {"transform":[{"filter":"isValid(datum.v)"}],"mark":{"type":"rect","fill":"#0c0c9c"},"encoding":{"x":{"field":"s","type":"quantitative","axis":null},"x2":{"field":"e"},"y":{"field":"v","type":"quantitative","axis":null},"y2":{"datum":0}}}]},

 {"width": 152, "height": 27.6, "data": {"values": [{}]}, "mark": {"type": "text", "text": ""}, "encoding": {}},
 {"width":200,"height":27.6,"data":{"name":"t1"},"transform":[{"filter":"datum.t==3"}],"layer":[
  {"transform":[{"filter":"datum.k=='base'"}],"mark":{"type":"rect","fill":"#f6f6f6"},"encoding":{"x":{"datum":0,"type":"quantitative","scale":{"domain":[0,14.7],"nice":false,"zero":false},"axis":null},"x2":{"datum":14.7}}},
  {"transform":[{"filter":"datum.k=='base'"}],"mark":{"type":"rule","color":"#c6c6c6","strokeWidth":1.5},"encoding":{"x":{"datum":0,"type":"quantitative","axis":null},"x2":{"datum":14.7},"y":{"datum":0,"type":"quantitative","scale":{"domain":[0,100],"nice":false,"zero":false},"axis":null}}},
  {"transform":[{"filter":"isValid(datum.v)"}],"mark":{"type":"rect","fill":"#f21c1c"},"encoding":{"x":{"field":"s","type":"quantitative","axis":null},"x2":{"field":"e"},"y":{"field":"v","type":"quantitative","axis":null},"y2":{"datum":0}}},
  {"transform":[{"filter":"isValid(datum.lab)"}],"mark":{"type":"text","align":"right","baseline":"middle","dx":-4,"dy":2,"fontSize":13},"encoding":{"x":{"datum":0,"type":"quantitative","axis":null},"y":{"datum":100,"type":"quantitative","axis":null},"text":{"field":"lab"}}}]},
 {"width":231,"height":27.6,"data":{"name":"t2"},"transform":[{"filter":"datum.t==3"}],"layer":[
  {"transform":[{"filter":"datum.k=='base'"}],"mark":{"type":"rect","fill":"#f6f6f6"},"encoding":{"x":{"datum":0,"type":"quantitative","scale":{"domain":[0,171.3],"range":[34,231],"nice":false,"zero":false},"axis":null},"x2":{"datum":171.3}}},
  {"transform":[{"filter":"datum.k=='base'"}],"mark":{"type":"rule","color":"#c6c6c6","strokeWidth":1.5},"encoding":{"x":{"datum":0,"type":"quantitative","axis":null},"x2":{"datum":171.3},"y":{"datum":0,"type":"quantitative","scale":{"domain":[0,100],"nice":false,"zero":false},"axis":null}}},
  {"transform":[{"filter":"isValid(datum.v)"}],"mark":{"type":"rect","fill":"#f21c1c"},"encoding":{"x":{"field":"s","type":"quantitative","axis":null},"x2":{"field":"e"},"y":{"field":"v","type":"quantitative","axis":null},"y2":{"datum":0}}},
  {"transform":[{"filter":"isValid(datum.lab)"}],"mark":{"type":"text","align":"right","baseline":"middle","dx":-4,"dy":2,"fontSize":13},"encoding":{"x":{"datum":0,"type":"quantitative","axis":null},"y":{"datum":100,"type":"quantitative","axis":null},"text":{"field":"lab"}}}]},
 {"width":229,"height":27.6,"data":{"name":"t3"},"transform":[{"filter":"datum.t==3"}],"layer":[
  {"transform":[{"filter":"datum.k=='base'"}],"mark":{"type":"rect","fill":"#f6f6f6"},"encoding":{"x":{"datum":0,"type":"quantitative","scale":{"domain":[0,41.4],"range":[31,229],"nice":false,"zero":false},"axis":null},"x2":{"datum":41.4}}},
  {"transform":[{"filter":"datum.k=='base'"}],"mark":{"type":"rule","color":"#c6c6c6","strokeWidth":1.5},"encoding":{"x":{"datum":0,"type":"quantitative","axis":null},"x2":{"datum":41.4},"y":{"datum":0,"type":"quantitative","scale":{"domain":[0,100],"nice":false,"zero":false},"axis":null}}},
  {"transform":[{"filter":"isValid(datum.v)"}],"mark":{"type":"rect","fill":"#f21c1c"},"encoding":{"x":{"field":"s","type":"quantitative","axis":null},"x2":{"field":"e"},"y":{"field":"v","type":"quantitative","axis":null},"y2":{"datum":0}}},
  {"transform":[{"filter":"isValid(datum.lab)"}],"mark":{"type":"text","align":"right","baseline":"middle","dx":-2,"dy":2,"fontSize":13},"encoding":{"x":{"datum":0,"type":"quantitative","axis":null},"y":{"datum":100,"type":"quantitative","axis":null},"text":{"field":"lab"}}}]},
 {"width":227,"height":27.6,"data":{"name":"t4"},"transform":[{"filter":"datum.t==3"}],"layer":[
  {"transform":[{"filter":"datum.k=='base'"}],"mark":{"type":"rect","fill":"#f6f6f6"},"encoding":{"x":{"datum":0,"type":"quantitative","scale":{"domain":[0,35.1],"range":[27,227],"nice":false,"zero":false},"axis":null},"x2":{"datum":35.1}}},
  {"transform":[{"filter":"datum.k=='base'"}],"mark":{"type":"rule","color":"#c6c6c6","strokeWidth":1.5},"encoding":{"x":{"datum":0,"type":"quantitative","axis":null},"x2":{"datum":35.1},"y":{"datum":0,"type":"quantitative","scale":{"domain":[0,100],"nice":false,"zero":false},"axis":null}}},
  {"transform":[{"filter":"isValid(datum.v)"}],"mark":{"type":"rect","fill":"#f21c1c"},"encoding":{"x":{"field":"s","type":"quantitative","axis":null},"x2":{"field":"e"},"y":{"field":"v","type":"quantitative","axis":null},"y2":{"datum":0}}},
  {"transform":[{"filter":"isValid(datum.lab)"}],"mark":{"type":"text","align":"right","baseline":"middle","dx":-4,"dy":2,"fontSize":13},"encoding":{"x":{"datum":0,"type":"quantitative","axis":null},"y":{"datum":100,"type":"quantitative","axis":null},"text":{"field":"lab"}}}]},

 {"width": 152, "height": 27.6, "data": {"values": [{}]}, "mark": {"type": "text", "text": ""}, "encoding": {}},
 {"width":200,"height":27.6,"data":{"name":"t1"},"transform":[{"filter":"datum.t==4"}],"layer":[
  {"transform":[{"filter":"datum.k=='base'"}],"mark":{"type":"rect","fill":"#f6f6f6"},"encoding":{"x":{"datum":0,"type":"quantitative","scale":{"domain":[0,14.7],"nice":false,"zero":false},"axis":null},"x2":{"datum":14.7}}},
  {"transform":[{"filter":"datum.k=='base'"}],"mark":{"type":"rule","color":"#c6c6c6","strokeWidth":1.5},"encoding":{"x":{"datum":0,"type":"quantitative","axis":null},"x2":{"datum":14.7},"y":{"datum":0,"type":"quantitative","scale":{"domain":[0,100],"nice":false,"zero":false},"axis":null}}},
  {"transform":[{"filter":"isValid(datum.v)"}],"mark":{"type":"rect","fill":"#f21c1c"},"encoding":{"x":{"field":"s","type":"quantitative","axis":null},"x2":{"field":"e"},"y":{"field":"v","type":"quantitative","axis":null},"y2":{"datum":0}}}]},
 {"width":231,"height":27.6,"data":{"name":"t2"},"transform":[{"filter":"datum.t==4"}],"layer":[
  {"transform":[{"filter":"datum.k=='base'"}],"mark":{"type":"rect","fill":"#f6f6f6"},"encoding":{"x":{"datum":0,"type":"quantitative","scale":{"domain":[0,171.3],"range":[34,231],"nice":false,"zero":false},"axis":null},"x2":{"datum":171.3}}},
  {"transform":[{"filter":"datum.k=='base'"}],"mark":{"type":"rule","color":"#c6c6c6","strokeWidth":1.5},"encoding":{"x":{"datum":0,"type":"quantitative","axis":null},"x2":{"datum":171.3},"y":{"datum":0,"type":"quantitative","scale":{"domain":[0,100],"nice":false,"zero":false},"axis":null}}},
  {"transform":[{"filter":"isValid(datum.v)"}],"mark":{"type":"rect","fill":"#f21c1c"},"encoding":{"x":{"field":"s","type":"quantitative","axis":null},"x2":{"field":"e"},"y":{"field":"v","type":"quantitative","axis":null},"y2":{"datum":0}}}]},
 {"width":229,"height":27.6,"data":{"name":"t3"},"transform":[{"filter":"datum.t==4"}],"layer":[
  {"transform":[{"filter":"datum.k=='base'"}],"mark":{"type":"rect","fill":"#f6f6f6"},"encoding":{"x":{"datum":0,"type":"quantitative","scale":{"domain":[0,41.4],"range":[31,229],"nice":false,"zero":false},"axis":null},"x2":{"datum":41.4}}},
  {"transform":[{"filter":"datum.k=='base'"}],"mark":{"type":"rule","color":"#c6c6c6","strokeWidth":1.5},"encoding":{"x":{"datum":0,"type":"quantitative","axis":null},"x2":{"datum":41.4},"y":{"datum":0,"type":"quantitative","scale":{"domain":[0,100],"nice":false,"zero":false},"axis":null}}},
  {"transform":[{"filter":"isValid(datum.v)"}],"mark":{"type":"rect","fill":"#f21c1c"},"encoding":{"x":{"field":"s","type":"quantitative","axis":null},"x2":{"field":"e"},"y":{"field":"v","type":"quantitative","axis":null},"y2":{"datum":0}}}]},
 {"width":227,"height":27.6,"data":{"name":"t4"},"transform":[{"filter":"datum.t==4"}],"layer":[
  {"transform":[{"filter":"datum.k=='base'"}],"mark":{"type":"rect","fill":"#f6f6f6"},"encoding":{"x":{"datum":0,"type":"quantitative","scale":{"domain":[0,35.1],"range":[27,227],"nice":false,"zero":false},"axis":null},"x2":{"datum":35.1}}},
  {"transform":[{"filter":"datum.k=='base'"}],"mark":{"type":"rule","color":"#c6c6c6","strokeWidth":1.5},"encoding":{"x":{"datum":0,"type":"quantitative","axis":null},"x2":{"datum":35.1},"y":{"datum":0,"type":"quantitative","scale":{"domain":[0,100],"nice":false,"zero":false},"axis":null}}},
  {"transform":[{"filter":"isValid(datum.v)"}],"mark":{"type":"rect","fill":"#f21c1c"},"encoding":{"x":{"field":"s","type":"quantitative","axis":null},"x2":{"field":"e"},"y":{"field":"v","type":"quantitative","axis":null},"y2":{"datum":0}}}]},

 {"width": 152, "height": 27.6, "data": {"values": [{}]}, "mark": {"type": "text", "text": ""}, "encoding": {}},
 {"width":200,"height":27.6,"data":{"name":"t1"},"transform":[{"filter":"datum.t==5"}],"layer":[
  {"transform":[{"filter":"datum.k=='base'"}],"mark":{"type":"rect","fill":"#f6f6f6"},"encoding":{"x":{"datum":0,"type":"quantitative","scale":{"domain":[0,14.7],"nice":false,"zero":false},"axis":null},"x2":{"datum":14.7}}},
  {"transform":[{"filter":"datum.k=='base'"}],"mark":{"type":"rule","color":"#3636cc","strokeWidth":1.5},"encoding":{"x":{"datum":0,"type":"quantitative","axis":null},"x2":{"datum":14.7},"y":{"datum":0,"type":"quantitative","scale":{"domain":[0,100],"nice":false,"zero":false},"axis":null}}},
  {"transform":[{"filter":"isValid(datum.v)"}],"mark":{"type":"rect","fill":"#0c0c9c"},"encoding":{"x":{"field":"s","type":"quantitative","axis":null},"x2":{"field":"e"},"y":{"field":"v","type":"quantitative","axis":null},"y2":{"datum":0}}},
  {"transform":[{"filter":"isValid(datum.lab)"}],"mark":{"type":"text","align":"right","baseline":"middle","dx":-4,"dy":2,"fontSize":13},"encoding":{"x":{"datum":0,"type":"quantitative","axis":null},"y":{"datum":100,"type":"quantitative","axis":null},"text":{"field":"lab"}}}]},
 {"width":231,"height":27.6,"data":{"name":"t2"},"transform":[{"filter":"datum.t==5"}],"layer":[
  {"transform":[{"filter":"datum.k=='base'"}],"mark":{"type":"rect","fill":"#f6f6f6"},"encoding":{"x":{"datum":0,"type":"quantitative","scale":{"domain":[0,171.3],"range":[34,231],"nice":false,"zero":false},"axis":null},"x2":{"datum":171.3}}},
  {"transform":[{"filter":"datum.k=='base'"}],"mark":{"type":"rule","color":"#3636cc","strokeWidth":1.5},"encoding":{"x":{"datum":0,"type":"quantitative","axis":null},"x2":{"datum":171.3},"y":{"datum":0,"type":"quantitative","scale":{"domain":[0,100],"nice":false,"zero":false},"axis":null}}},
  {"transform":[{"filter":"isValid(datum.v)"}],"mark":{"type":"rect","fill":"#0c0c9c"},"encoding":{"x":{"field":"s","type":"quantitative","axis":null},"x2":{"field":"e"},"y":{"field":"v","type":"quantitative","axis":null},"y2":{"datum":0}}},
  {"transform":[{"filter":"isValid(datum.lab)"}],"mark":{"type":"text","align":"right","baseline":"middle","dx":-4,"dy":2,"fontSize":13},"encoding":{"x":{"datum":0,"type":"quantitative","axis":null},"y":{"datum":100,"type":"quantitative","axis":null},"text":{"field":"lab"}}}]},
 {"width":229,"height":27.6,"data":{"name":"t3"},"transform":[{"filter":"datum.t==5"}],"layer":[
  {"transform":[{"filter":"datum.k=='base'"}],"mark":{"type":"rect","fill":"#f6f6f6"},"encoding":{"x":{"datum":0,"type":"quantitative","scale":{"domain":[0,41.4],"range":[31,229],"nice":false,"zero":false},"axis":null},"x2":{"datum":41.4}}},
  {"transform":[{"filter":"datum.k=='base'"}],"mark":{"type":"rule","color":"#3636cc","strokeWidth":1.5},"encoding":{"x":{"datum":0,"type":"quantitative","axis":null},"x2":{"datum":41.4},"y":{"datum":0,"type":"quantitative","scale":{"domain":[0,100],"nice":false,"zero":false},"axis":null}}},
  {"transform":[{"filter":"isValid(datum.v)"}],"mark":{"type":"rect","fill":"#0c0c9c"},"encoding":{"x":{"field":"s","type":"quantitative","axis":null},"x2":{"field":"e"},"y":{"field":"v","type":"quantitative","axis":null},"y2":{"datum":0}}},
  {"transform":[{"filter":"isValid(datum.lab)"}],"mark":{"type":"text","align":"right","baseline":"middle","dx":-2,"dy":2,"fontSize":13},"encoding":{"x":{"datum":0,"type":"quantitative","axis":null},"y":{"datum":100,"type":"quantitative","axis":null},"text":{"field":"lab"}}}]},
 {"width":227,"height":27.6,"data":{"name":"t4"},"transform":[{"filter":"datum.t==5"}],"layer":[
  {"transform":[{"filter":"datum.k=='base'"}],"mark":{"type":"rect","fill":"#f6f6f6"},"encoding":{"x":{"datum":0,"type":"quantitative","scale":{"domain":[0,35.1],"range":[27,227],"nice":false,"zero":false},"axis":null},"x2":{"datum":35.1}}},
  {"transform":[{"filter":"datum.k=='base'"}],"mark":{"type":"rule","color":"#3636cc","strokeWidth":1.5},"encoding":{"x":{"datum":0,"type":"quantitative","axis":null},"x2":{"datum":35.1},"y":{"datum":0,"type":"quantitative","scale":{"domain":[0,100],"nice":false,"zero":false},"axis":null}}},
  {"transform":[{"filter":"isValid(datum.v)"}],"mark":{"type":"rect","fill":"#0c0c9c"},"encoding":{"x":{"field":"s","type":"quantitative","axis":null},"x2":{"field":"e"},"y":{"field":"v","type":"quantitative","axis":null},"y2":{"datum":0}}},
  {"transform":[{"filter":"isValid(datum.lab)"}],"mark":{"type":"text","align":"right","baseline":"middle","dx":-4,"dy":2,"fontSize":13},"encoding":{"x":{"datum":0,"type":"quantitative","axis":null},"y":{"datum":100,"type":"quantitative","axis":null},"text":{"field":"lab"}}}]},

 {"width": 152, "height": 27.6, "data": {"values": [{}]}, "mark": {"type": "text", "text": ""}, "encoding": {}},
 {"width":200,"height":27.6,"data":{"name":"t1"},"transform":[{"filter":"datum.t==6"}],"layer":[
  {"transform":[{"filter":"datum.k=='base'"}],"mark":{"type":"rect","fill":"#f6f6f6"},"encoding":{"x":{"datum":0,"type":"quantitative","scale":{"domain":[0,14.7],"nice":false,"zero":false},"axis":null},"x2":{"datum":14.7}}},
  {"transform":[{"filter":"datum.k=='base'"}],"mark":{"type":"rule","color":"#3636cc","strokeWidth":1.5},"encoding":{"x":{"datum":0,"type":"quantitative","axis":null},"x2":{"datum":14.7},"y":{"datum":0,"type":"quantitative","scale":{"domain":[0,100],"nice":false,"zero":false},"axis":null}}},
  {"transform":[{"filter":"isValid(datum.v)"}],"mark":{"type":"rect","fill":"#0c0c9c"},"encoding":{"x":{"field":"s","type":"quantitative","axis":null},"x2":{"field":"e"},"y":{"field":"v","type":"quantitative","axis":null},"y2":{"datum":0}}}]},
 {"width":231,"height":27.6,"data":{"name":"t2"},"transform":[{"filter":"datum.t==6"}],"layer":[
  {"transform":[{"filter":"datum.k=='base'"}],"mark":{"type":"rect","fill":"#f6f6f6"},"encoding":{"x":{"datum":0,"type":"quantitative","scale":{"domain":[0,171.3],"range":[34,231],"nice":false,"zero":false},"axis":null},"x2":{"datum":171.3}}},
  {"transform":[{"filter":"datum.k=='base'"}],"mark":{"type":"rule","color":"#3636cc","strokeWidth":1.5},"encoding":{"x":{"datum":0,"type":"quantitative","axis":null},"x2":{"datum":171.3},"y":{"datum":0,"type":"quantitative","scale":{"domain":[0,100],"nice":false,"zero":false},"axis":null}}},
  {"transform":[{"filter":"isValid(datum.v)"}],"mark":{"type":"rect","fill":"#0c0c9c"},"encoding":{"x":{"field":"s","type":"quantitative","axis":null},"x2":{"field":"e"},"y":{"field":"v","type":"quantitative","axis":null},"y2":{"datum":0}}}]},
 {"width":229,"height":27.6,"data":{"name":"t3"},"transform":[{"filter":"datum.t==6"}],"layer":[
  {"transform":[{"filter":"datum.k=='base'"}],"mark":{"type":"rect","fill":"#f6f6f6"},"encoding":{"x":{"datum":0,"type":"quantitative","scale":{"domain":[0,41.4],"range":[31,229],"nice":false,"zero":false},"axis":null},"x2":{"datum":41.4}}},
  {"transform":[{"filter":"datum.k=='base'"}],"mark":{"type":"rule","color":"#3636cc","strokeWidth":1.5},"encoding":{"x":{"datum":0,"type":"quantitative","axis":null},"x2":{"datum":41.4},"y":{"datum":0,"type":"quantitative","scale":{"domain":[0,100],"nice":false,"zero":false},"axis":null}}},
  {"transform":[{"filter":"isValid(datum.v)"}],"mark":{"type":"rect","fill":"#0c0c9c"},"encoding":{"x":{"field":"s","type":"quantitative","axis":null},"x2":{"field":"e"},"y":{"field":"v","type":"quantitative","axis":null},"y2":{"datum":0}}}]},
 {"width":227,"height":27.6,"data":{"name":"t4"},"transform":[{"filter":"datum.t==6"}],"layer":[
  {"transform":[{"filter":"datum.k=='base'"}],"mark":{"type":"rect","fill":"#f6f6f6"},"encoding":{"x":{"datum":0,"type":"quantitative","scale":{"domain":[0,35.1],"range":[27,227],"nice":false,"zero":false},"axis":null},"x2":{"datum":35.1}}},
  {"transform":[{"filter":"datum.k=='base'"}],"mark":{"type":"rule","color":"#3636cc","strokeWidth":1.5},"encoding":{"x":{"datum":0,"type":"quantitative","axis":null},"x2":{"datum":35.1},"y":{"datum":0,"type":"quantitative","scale":{"domain":[0,100],"nice":false,"zero":false},"axis":null}}},
  {"transform":[{"filter":"isValid(datum.v)"}],"mark":{"type":"rect","fill":"#0c0c9c"},"encoding":{"x":{"field":"s","type":"quantitative","axis":null},"x2":{"field":"e"},"y":{"field":"v","type":"quantitative","axis":null},"y2":{"datum":0}}}]},

 {"width": 152, "height": 27.6, "data": {"values": [{}]}, "mark": {"type": "text", "text": ""}, "encoding": {}},
 {"width":200,"height":27.6,"data":{"name":"t1"},"transform":[{"filter":"datum.t==7"}],"layer":[
  {"transform":[{"filter":"datum.k=='base'"}],"mark":{"type":"rect","fill":"#f6f6f6"},"encoding":{"x":{"datum":0,"type":"quantitative","scale":{"domain":[0,14.7],"nice":false,"zero":false},"axis":null},"x2":{"datum":14.7}}},
  {"transform":[{"filter":"datum.k=='base'"}],"mark":{"type":"rule","color":"#c6c6c6","strokeWidth":1.5},"encoding":{"x":{"datum":0,"type":"quantitative","axis":null},"x2":{"datum":14.7},"y":{"datum":0,"type":"quantitative","scale":{"domain":[0,100],"nice":false,"zero":false},"axis":null}}},
  {"transform":[{"filter":"isValid(datum.v)"}],"mark":{"type":"rect","fill":"#f21c1c"},"encoding":{"x":{"field":"s","type":"quantitative","axis":null},"x2":{"field":"e"},"y":{"field":"v","type":"quantitative","axis":null},"y2":{"datum":0}}},
  {"transform":[{"filter":"isValid(datum.lab)"}],"mark":{"type":"text","align":"right","baseline":"middle","dx":-4,"dy":2,"fontSize":13},"encoding":{"x":{"datum":0,"type":"quantitative","axis":null},"y":{"datum":100,"type":"quantitative","axis":null},"text":{"field":"lab"}}}]},
 {"width":231,"height":27.6,"data":{"name":"t2"},"transform":[{"filter":"datum.t==7"}],"layer":[
  {"transform":[{"filter":"datum.k=='base'"}],"mark":{"type":"rect","fill":"#f6f6f6"},"encoding":{"x":{"datum":0,"type":"quantitative","scale":{"domain":[0,171.3],"range":[34,231],"nice":false,"zero":false},"axis":null},"x2":{"datum":171.3}}},
  {"transform":[{"filter":"datum.k=='base'"}],"mark":{"type":"rule","color":"#c6c6c6","strokeWidth":1.5},"encoding":{"x":{"datum":0,"type":"quantitative","axis":null},"x2":{"datum":171.3},"y":{"datum":0,"type":"quantitative","scale":{"domain":[0,100],"nice":false,"zero":false},"axis":null}}},
  {"transform":[{"filter":"isValid(datum.v)"}],"mark":{"type":"rect","fill":"#f21c1c"},"encoding":{"x":{"field":"s","type":"quantitative","axis":null},"x2":{"field":"e"},"y":{"field":"v","type":"quantitative","axis":null},"y2":{"datum":0}}},
  {"transform":[{"filter":"isValid(datum.lab)"}],"mark":{"type":"text","align":"right","baseline":"middle","dx":-4,"dy":2,"fontSize":13},"encoding":{"x":{"datum":0,"type":"quantitative","axis":null},"y":{"datum":100,"type":"quantitative","axis":null},"text":{"field":"lab"}}}]},
 {"width":229,"height":27.6,"data":{"name":"t3"},"transform":[{"filter":"datum.t==7"}],"layer":[
  {"transform":[{"filter":"datum.k=='base'"}],"mark":{"type":"rect","fill":"#f6f6f6"},"encoding":{"x":{"datum":0,"type":"quantitative","scale":{"domain":[0,41.4],"range":[31,229],"nice":false,"zero":false},"axis":null},"x2":{"datum":41.4}}},
  {"transform":[{"filter":"datum.k=='base'"}],"mark":{"type":"rule","color":"#c6c6c6","strokeWidth":1.5},"encoding":{"x":{"datum":0,"type":"quantitative","axis":null},"x2":{"datum":41.4},"y":{"datum":0,"type":"quantitative","scale":{"domain":[0,100],"nice":false,"zero":false},"axis":null}}},
  {"transform":[{"filter":"isValid(datum.v)"}],"mark":{"type":"rect","fill":"#f21c1c"},"encoding":{"x":{"field":"s","type":"quantitative","axis":null},"x2":{"field":"e"},"y":{"field":"v","type":"quantitative","axis":null},"y2":{"datum":0}}},
  {"transform":[{"filter":"isValid(datum.lab)"}],"mark":{"type":"text","align":"right","baseline":"middle","dx":-2,"dy":2,"fontSize":13},"encoding":{"x":{"datum":0,"type":"quantitative","axis":null},"y":{"datum":100,"type":"quantitative","axis":null},"text":{"field":"lab"}}}]},
 {"width":227,"height":27.6,"data":{"name":"t4"},"transform":[{"filter":"datum.t==7"}],"layer":[
  {"transform":[{"filter":"datum.k=='base'"}],"mark":{"type":"rect","fill":"#f6f6f6"},"encoding":{"x":{"datum":0,"type":"quantitative","scale":{"domain":[0,35.1],"range":[27,227],"nice":false,"zero":false},"axis":null},"x2":{"datum":35.1}}},
  {"transform":[{"filter":"datum.k=='base'"}],"mark":{"type":"rule","color":"#c6c6c6","strokeWidth":1.5},"encoding":{"x":{"datum":0,"type":"quantitative","axis":null},"x2":{"datum":35.1},"y":{"datum":0,"type":"quantitative","scale":{"domain":[0,100],"nice":false,"zero":false},"axis":null}}},
  {"transform":[{"filter":"isValid(datum.v)"}],"mark":{"type":"rect","fill":"#f21c1c"},"encoding":{"x":{"field":"s","type":"quantitative","axis":null},"x2":{"field":"e"},"y":{"field":"v","type":"quantitative","axis":null},"y2":{"datum":0}}},
  {"transform":[{"filter":"isValid(datum.lab)"}],"mark":{"type":"text","align":"right","baseline":"middle","dx":-4,"dy":2,"fontSize":13},"encoding":{"x":{"datum":0,"type":"quantitative","axis":null},"y":{"datum":100,"type":"quantitative","axis":null},"text":{"field":"lab"}}}]},

 {"width": 152, "height": 27.6, "data": {"values": [{}]}, "mark": {"type": "text", "text": ""}, "encoding": {}},
 {"width":200,"height":27.6,"data":{"name":"t1"},"transform":[{"filter":"datum.t==8"}],"layer":[
  {"transform":[{"filter":"datum.k=='base'"}],"mark":{"type":"rect","fill":"#f6f6f6"},"encoding":{"x":{"datum":0,"type":"quantitative","scale":{"domain":[0,14.7],"nice":false,"zero":false},"axis":null},"x2":{"datum":14.7}}},
  {"transform":[{"filter":"datum.k=='base'"}],"mark":{"type":"rule","color":"#c6c6c6","strokeWidth":1.5},"encoding":{"x":{"datum":0,"type":"quantitative","axis":null},"x2":{"datum":14.7},"y":{"datum":0,"type":"quantitative","scale":{"domain":[0,100],"nice":false,"zero":false},"axis":null}}},
  {"transform":[{"filter":"isValid(datum.v)"}],"mark":{"type":"rect","fill":"#f21c1c"},"encoding":{"x":{"field":"s","type":"quantitative","axis":null},"x2":{"field":"e"},"y":{"field":"v","type":"quantitative","axis":null},"y2":{"datum":0}}}]},
 {"width":231,"height":27.6,"data":{"name":"t2"},"transform":[{"filter":"datum.t==8"}],"layer":[
  {"transform":[{"filter":"datum.k=='base'"}],"mark":{"type":"rect","fill":"#f6f6f6"},"encoding":{"x":{"datum":0,"type":"quantitative","scale":{"domain":[0,171.3],"range":[34,231],"nice":false,"zero":false},"axis":null},"x2":{"datum":171.3}}},
  {"transform":[{"filter":"datum.k=='base'"}],"mark":{"type":"rule","color":"#c6c6c6","strokeWidth":1.5},"encoding":{"x":{"datum":0,"type":"quantitative","axis":null},"x2":{"datum":171.3},"y":{"datum":0,"type":"quantitative","scale":{"domain":[0,100],"nice":false,"zero":false},"axis":null}}},
  {"transform":[{"filter":"isValid(datum.v)"}],"mark":{"type":"rect","fill":"#f21c1c"},"encoding":{"x":{"field":"s","type":"quantitative","axis":null},"x2":{"field":"e"},"y":{"field":"v","type":"quantitative","axis":null},"y2":{"datum":0}}}]},
 {"width":229,"height":27.6,"data":{"name":"t3"},"transform":[{"filter":"datum.t==8"}],"layer":[
  {"transform":[{"filter":"datum.k=='base'"}],"mark":{"type":"rect","fill":"#f6f6f6"},"encoding":{"x":{"datum":0,"type":"quantitative","scale":{"domain":[0,41.4],"range":[31,229],"nice":false,"zero":false},"axis":null},"x2":{"datum":41.4}}},
  {"transform":[{"filter":"datum.k=='base'"}],"mark":{"type":"rule","color":"#c6c6c6","strokeWidth":1.5},"encoding":{"x":{"datum":0,"type":"quantitative","axis":null},"x2":{"datum":41.4},"y":{"datum":0,"type":"quantitative","scale":{"domain":[0,100],"nice":false,"zero":false},"axis":null}}},
  {"transform":[{"filter":"isValid(datum.v)"}],"mark":{"type":"rect","fill":"#f21c1c"},"encoding":{"x":{"field":"s","type":"quantitative","axis":null},"x2":{"field":"e"},"y":{"field":"v","type":"quantitative","axis":null},"y2":{"datum":0}}}]},
 {"width":227,"height":27.6,"data":{"name":"t4"},"transform":[{"filter":"datum.t==8"}],"layer":[
  {"transform":[{"filter":"datum.k=='base'"}],"mark":{"type":"rect","fill":"#f6f6f6"},"encoding":{"x":{"datum":0,"type":"quantitative","scale":{"domain":[0,35.1],"range":[27,227],"nice":false,"zero":false},"axis":null},"x2":{"datum":35.1}}},
  {"transform":[{"filter":"datum.k=='base'"}],"mark":{"type":"rule","color":"#c6c6c6","strokeWidth":1.5},"encoding":{"x":{"datum":0,"type":"quantitative","axis":null},"x2":{"datum":35.1},"y":{"datum":0,"type":"quantitative","scale":{"domain":[0,100],"nice":false,"zero":false},"axis":null}}},
  {"transform":[{"filter":"isValid(datum.v)"}],"mark":{"type":"rect","fill":"#f21c1c"},"encoding":{"x":{"field":"s","type":"quantitative","axis":null},"x2":{"field":"e"},"y":{"field":"v","type":"quantitative","axis":null},"y2":{"datum":0}}}]},

 {"width": 152, "height": 23, "data": {"values": [{}]}, "mark": {"type": "text", "text": ""}, "encoding": {}},
 {"width": 200, "height": 23, "data": {"name": "g1"},
  "layer": [
   {"transform": [{"filter": "datum.k=='i'"}], "mark": {"type": "rect", "fill": "#f6f6f6"},
    "encoding": {"x": {"datum": 0, "type": "quantitative", "scale": {"domain": [0,14.7], "nice": false, "zero": false}, "axis": null}, "x2": {"datum": 14.7}}},
   {"transform": [{"filter": "datum.k=='i'"}], "mark": {"type": "rule", "color": "#2a2ad2", "strokeWidth": 1.5},
    "encoding": {"x": {"field": "s", "type": "quantitative", "axis": null}, "x2": {"field": "e"}, "y": {"datum": 0, "type": "quantitative", "scale": {"domain": [-1,1], "nice": false, "zero": false}, "axis": null}}},
   {"transform": [{"filter": "datum.k=='x'"}], "mark": {"type": "rule", "color": "#1414b4", "strokeCap": "butt"},
    "encoding": {"x": {"field": "s", "type": "quantitative", "axis": null}, "x2": {"field": "e"}, "y": {"datum": 0, "type": "quantitative", "axis": null}, "strokeWidth": {"condition": {"test": "datum.h=='u'", "value": 9}, "value": 12}}},
   {"transform": [{"filter": "datum.k=='c'"}], "mark": {"type": "text", "text": "‹", "color": "#2a2ad2", "fontSize": 13, "baseline": "middle", "dy": -1},
    "encoding": {"x": {"field": "s", "type": "quantitative", "axis": null}, "y": {"datum": 0, "type": "quantitative", "axis": null}}},
   {"transform": [{"filter": "datum.k=='n'"}], "mark": {"type": "rule", "color": "black", "strokeWidth": 1.5, "yOffset": 6, "y2Offset": 22},
    "encoding": {"x": {"field": "s", "type": "quantitative", "axis": null}, "y": {"datum": 0, "type": "quantitative", "axis": null}, "y2": {"datum": 0}}},
   {"transform": [{"filter": "datum.k=='n'"}], "mark": {"type": "rule", "color": "black", "strokeWidth": 1.5, "yOffset": 22, "x2Offset": -22},
    "encoding": {"x": {"field": "s", "type": "quantitative", "axis": null}, "x2": {"field": "s"}, "y": {"datum": 0, "type": "quantitative", "axis": null}}},
   {"transform": [{"filter": "datum.k=='n'"}], "mark": {"type": "point", "shape": "triangle-left", "filled": true, "color": "black", "opacity": 1, "size": 45, "xOffset": -24, "yOffset": 22},
    "encoding": {"x": {"field": "s", "type": "quantitative", "axis": null}, "y": {"datum": 0, "type": "quantitative", "axis": null}}},
   {"transform": [{"filter": "datum.k=='n'"}], "mark": {"type": "text", "align": "right", "baseline": "middle", "dx": -33, "dy": 19, "fontSize": 16, "fontStyle": "italic"},
    "encoding": {"x": {"field": "s", "type": "quantitative", "axis": null}, "y": {"datum": 0, "type": "quantitative", "axis": null}, "text": {"field": "g"}}}
  ]},
 {"width": 231, "height": 23, "data": {"name": "g2"},
  "layer": [
   {"transform": [{"filter": "datum.k=='i'"}], "mark": {"type": "rect", "fill": "#f6f6f6"},
    "encoding": {"x": {"datum": 0, "type": "quantitative", "scale": {"domain": [0,171.3], "range": [34,231], "nice": false, "zero": false}, "axis": null}, "x2": {"datum": 171.3}}},
   {"transform": [{"filter": "datum.k=='i'"}], "mark": {"type": "rule", "color": "#2a2ad2", "strokeWidth": 1.5},
    "encoding": {"x": {"field": "s", "type": "quantitative", "axis": null}, "x2": {"field": "e"}, "y": {"datum": 0, "type": "quantitative", "scale": {"domain": [-1,1], "nice": false, "zero": false}, "axis": null}}},
   {"transform": [{"filter": "datum.k=='x'"}], "mark": {"type": "rule", "color": "#1414b4", "strokeCap": "butt"},
    "encoding": {"x": {"field": "s", "type": "quantitative", "axis": null}, "x2": {"field": "e"}, "y": {"datum": 0, "type": "quantitative", "axis": null}, "strokeWidth": {"condition": {"test": "datum.h=='u'", "value": 9}, "value": 11}}},
   {"transform": [{"filter": "datum.k=='c'"}], "mark": {"type": "text", "text": "›", "color": "#2a2ad2", "fontSize": 13, "baseline": "middle", "dy": -1},
    "encoding": {"x": {"field": "s", "type": "quantitative", "axis": null}, "y": {"datum": 0, "type": "quantitative", "axis": null}}},
   {"transform": [{"filter": "datum.k=='n'"}], "mark": {"type": "rule", "color": "black", "strokeWidth": 1.5, "yOffset": 4, "y2Offset": 20},
    "encoding": {"x": {"field": "s", "type": "quantitative", "axis": null}, "y": {"datum": 0, "type": "quantitative", "axis": null}, "y2": {"datum": 0}}},
   {"transform": [{"filter": "datum.k=='n'"}], "mark": {"type": "rule", "color": "black", "strokeWidth": 1.5, "yOffset": 20, "x2Offset": 24},
    "encoding": {"x": {"field": "s", "type": "quantitative", "axis": null}, "x2": {"field": "s"}, "y": {"datum": 0, "type": "quantitative", "axis": null}}},
   {"transform": [{"filter": "datum.k=='n'"}], "mark": {"type": "point", "shape": "triangle-right", "filled": true, "color": "black", "opacity": 1, "size": 45, "xOffset": 26, "yOffset": 20},
    "encoding": {"x": {"field": "s", "type": "quantitative", "axis": null}, "y": {"datum": 0, "type": "quantitative", "axis": null}}},
   {"transform": [{"filter": "datum.k=='n'"}], "mark": {"type": "text", "align": "left", "baseline": "middle", "dx": 35, "dy": 19, "fontSize": 16, "fontStyle": "italic"},
    "encoding": {"x": {"field": "s", "type": "quantitative", "axis": null}, "y": {"datum": 0, "type": "quantitative", "axis": null}, "text": {"field": "g"}}}
  ]},
 {"width": 229, "height": 23, "data": {"name": "g3"},
  "layer": [
   {"transform": [{"filter": "datum.k=='i'"}], "mark": {"type": "rect", "fill": "#f6f6f6"},
    "encoding": {"x": {"datum": 0, "type": "quantitative", "scale": {"domain": [0,41.4], "range": [31,229], "nice": false, "zero": false}, "axis": null}, "x2": {"datum": 41.4}}},
   {"transform": [{"filter": "datum.k=='i'"}], "mark": {"type": "rule", "color": "#2a2ad2", "strokeWidth": 1.5},
    "encoding": {"x": {"field": "s", "type": "quantitative", "axis": null}, "x2": {"field": "e"}, "y": {"datum": 0, "type": "quantitative", "scale": {"domain": [-1,1], "nice": false, "zero": false}, "axis": null}}},
   {"transform": [{"filter": "datum.k=='x'"}], "mark": {"type": "rule", "color": "#1414b4", "strokeCap": "butt"},
    "encoding": {"x": {"field": "s", "type": "quantitative", "axis": null}, "x2": {"field": "e"}, "y": {"datum": 0, "type": "quantitative", "axis": null}, "strokeWidth": {"condition": {"test": "datum.h=='u'", "value": 9}, "value": 13}}},
   {"transform": [{"filter": "datum.k=='c'"}], "mark": {"type": "text", "text": "‹", "color": "#2a2ad2", "fontSize": 13, "baseline": "middle", "dy": -1},
    "encoding": {"x": {"field": "s", "type": "quantitative", "axis": null}, "y": {"datum": 0, "type": "quantitative", "axis": null}}},
   {"transform": [{"filter": "datum.k=='n'"}], "mark": {"type": "rule", "color": "black", "strokeWidth": 1.5, "yOffset": 8, "y2Offset": 20},
    "encoding": {"x": {"field": "s", "type": "quantitative", "axis": null}, "y": {"datum": 0, "type": "quantitative", "axis": null}, "y2": {"datum": 0}}},
   {"transform": [{"filter": "datum.k=='n'"}], "mark": {"type": "rule", "color": "black", "strokeWidth": 1.5, "yOffset": 20, "x2Offset": -22},
    "encoding": {"x": {"field": "s", "type": "quantitative", "axis": null}, "x2": {"field": "s"}, "y": {"datum": 0, "type": "quantitative", "axis": null}}},
   {"transform": [{"filter": "datum.k=='n'"}], "mark": {"type": "point", "shape": "triangle-left", "filled": true, "color": "black", "opacity": 1, "size": 45, "xOffset": -24, "yOffset": 20},
    "encoding": {"x": {"field": "s", "type": "quantitative", "axis": null}, "y": {"datum": 0, "type": "quantitative", "axis": null}}},
   {"transform": [{"filter": "datum.k=='n'"}], "mark": {"type": "text", "align": "right", "baseline": "middle", "dx": -36, "dy": 21, "fontSize": 16, "fontStyle": "italic"},
    "encoding": {"x": {"field": "s", "type": "quantitative", "axis": null}, "y": {"datum": 0, "type": "quantitative", "axis": null}, "text": {"field": "g"}}}
  ]},
 {"width": 227, "height": 23, "data": {"name": "g4"},
  "layer": [
   {"transform": [{"filter": "datum.k=='i'"}], "mark": {"type": "rect", "fill": "#f6f6f6"},
    "encoding": {"x": {"datum": 0, "type": "quantitative", "scale": {"domain": [0,35.1], "range": [27,227], "nice": false, "zero": false}, "axis": null}, "x2": {"datum": 35.1}}},
   {"transform": [{"filter": "datum.k=='i'"}], "mark": {"type": "rule", "color": "#2a2ad2", "strokeWidth": 1.5},
    "encoding": {"x": {"field": "s", "type": "quantitative", "axis": null}, "x2": {"field": "e"}, "y": {"datum": 0, "type": "quantitative", "scale": {"domain": [-1,1], "nice": false, "zero": false}, "axis": null}}},
   {"transform": [{"filter": "datum.k=='x'"}], "mark": {"type": "rule", "color": "#1414b4", "strokeCap": "butt"},
    "encoding": {"x": {"field": "s", "type": "quantitative", "axis": null}, "x2": {"field": "e"}, "y": {"datum": 0, "type": "quantitative", "axis": null}, "strokeWidth": {"condition": {"test": "datum.h=='u'", "value": 10}, "value": 13}}},
   {"transform": [{"filter": "datum.k=='n'"}], "mark": {"type": "rule", "color": "black", "strokeWidth": 1.5, "yOffset": 8, "y2Offset": 18},
    "encoding": {"x": {"field": "s", "type": "quantitative", "axis": null}, "y": {"datum": 0, "type": "quantitative", "axis": null}, "y2": {"datum": 0}}},
   {"transform": [{"filter": "datum.k=='n'"}], "mark": {"type": "rule", "color": "black", "strokeWidth": 1.5, "yOffset": 18, "x2Offset": -22},
    "encoding": {"x": {"field": "s", "type": "quantitative", "axis": null}, "x2": {"field": "s"}, "y": {"datum": 0, "type": "quantitative", "axis": null}}},
   {"transform": [{"filter": "datum.k=='n'"}], "mark": {"type": "point", "shape": "triangle-left", "filled": true, "color": "black", "opacity": 1, "size": 45, "xOffset": -24, "yOffset": 18},
    "encoding": {"x": {"field": "s", "type": "quantitative", "axis": null}, "y": {"datum": 0, "type": "quantitative", "axis": null}}},
   {"transform": [{"filter": "datum.k=='n'"}], "mark": {"type": "text", "align": "right", "baseline": "middle", "dx": -34, "dy": 23, "fontSize": 16, "fontStyle": "italic"},
    "encoding": {"x": {"field": "s", "type": "quantitative", "axis": null}, "y": {"datum": 0, "type": "quantitative", "axis": null}, "text": {"field": "g"}}}
  ]}
]
}
